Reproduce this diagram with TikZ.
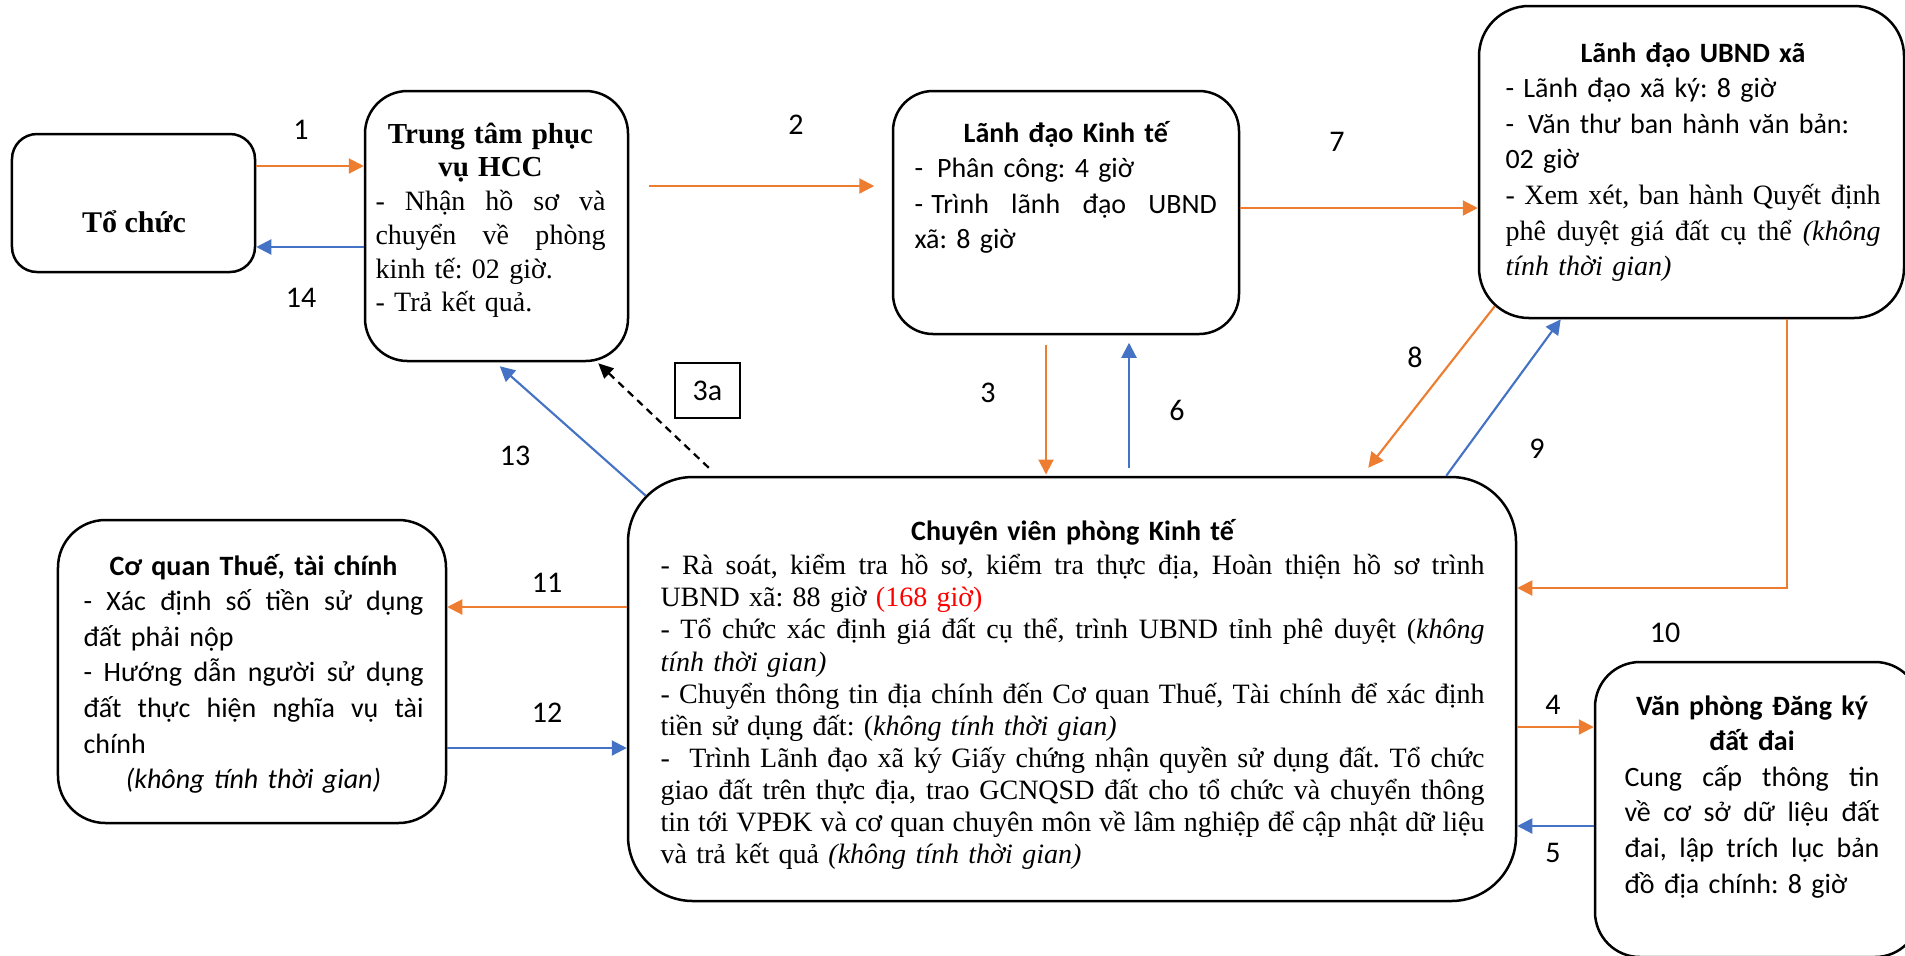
\documentclass[tikz,border=0pt]{standalone}
\usepackage{fontspec}
\setmainfont{Liberation Serif}
\newfontfamily\cali{Carlito}
\usepackage{tikz}
\usetikzlibrary{arrows.meta, positioning, calc}
\definecolor{myOrange}{HTML}{ED7D31}
\definecolor{myBlue}{HTML}{4472C4}
\frenchspacing
% justified line of a box text
\newcommand{\jl}[1]{{\spaceskip=0pt \xspaceskip=0pt \makebox[\linewidth][s]{#1}}}
\newcommand{\cl}[1]{\makebox[\linewidth][c]{#1}}

\begin{document}
\begin{tikzpicture}[
x=0.4pt, y=-0.4pt,
box/.style={
draw,
line width=1pt,
inner sep=0pt
},
txt/.style={
inner sep=0pt,
anchor=base west
},
tnr/.style={font=\rmfamily\fontsize{11.2}{13.5}\selectfont},
cal/.style={font=\cali\fontsize{11.2}{14.25}\selectfont},
lbl/.style={font=\cali\fontsize{12}{14}\selectfont, inner sep=0pt},
oarrow/.style={-{Triangle[length=6pt,width=6pt]}, line width=0.85pt, myOrange},
barrow/.style={-{Triangle[length=6pt,width=6pt]}, line width=0.85pt, myBlue},
darrow/.style={-{Triangle[length=6pt,width=5.5pt]}, line width=0.9pt, dash pattern=on 3pt off 2.2pt}
]
\useasboundingbox (0,0) rectangle (1905,955);

% boxes
\node[box, rounded corners=10pt, minimum width=97.2pt, minimum height=55.2pt] (tochuc) at (133.5,203) {};
\node[box, rounded corners=17pt, minimum width=105.2pt, minimum height=108pt] (hcc) at (496.5,226) {};
\node[box, rounded corners=16pt, minimum width=138.4pt, minimum height=97.2pt] (ldkt) at (1066,212.5) {};
\node[box, rounded corners=20pt, minimum width=170pt, minimum height=124.8pt] (ubnd) at (1691.5,162) {};
\node[box, rounded corners=26pt, minimum width=355.2pt, minimum height=169.6pt] (cv) at (1072,689) {};
\node[box, rounded corners=19pt, minimum width=155.2pt, minimum height=121.2pt] (thue) at (252,671.5) {};
\node[box, rounded corners=18pt, minimum width=130pt, minimum height=118pt] (vp) at (1757.5,809.5) {};

% texts
\node[font=\rmfamily\fontsize{12}{14}\selectfont, inner sep=0pt, anchor=base] (tochuc-t) at (134,232) {\bfseries Tổ chức};

\node[txt, tnr, text width=92pt] (hcc-t) at (375,143) {%
\cl{\fontsize{11.6}{13.5}\selectfont\bfseries Trung tâm phục}\\
\cl{\fontsize{11.6}{13.5}\selectfont\bfseries vụ HCC}\\
\jl{- Nhận hồ sơ và}\\
\jl{chuyển về phòng}\\
kinh tế: 02 giờ.\\
- Trả kết quả.};

\node[txt, cal, text width=121pt] (ldkt-t) at (914,142) {%
\cl{\bfseries Lãnh đạo Kinh tế}\\
- \,Phân công: 4 giờ\\
\jl{-\hspace{0.3em}Trình lãnh đạo UBND}\\
xã: 8 giờ};

\node[txt, cal, text width=150pt] (ubnd-t) at (1505,62) {%
\cl{\bfseries Lãnh đạo UBND xã}\\
- Lãnh đạo xã ký: 8 giờ\\
- \,Văn thư ban hành văn bản:\\
02 giờ\\
{\rmfamily\jl{- Xem xét, ban hành Quyết định}}\\
{\rmfamily\jl{phê duyệt giá đất cụ thể \textit{(không}}}\\
{\rmfamily\textit{tính thời gian)}}};

\node[txt, font=\rmfamily\fontsize{11.2}{12.85}\selectfont, text width=329.6pt] (cv-t) at (660,540) {%
\cl{\cali\bfseries Chuyên viên phòng Kinh tế}\\[1pt]
\jl{- Rà soát, kiểm tra hồ sơ, kiểm tra thực địa, Hoàn thiện hồ sơ trình}\\
UBND xã: 88 giờ \textcolor{red}{(168 giờ)}\\
\jl{- Tổ chức xác định giá đất cụ thể, trình UBND tỉnh phê duyệt (\textit{không}}\\
\textit{tính thời gian)}\\
\jl{- Chuyển thông tin địa chính đến Cơ quan Thuế, Tài chính để xác định}\\
tiền sử dụng đất: (\textit{không tính thời gian)}\\
\jl{-\ \ Trình Lãnh đạo xã ký Giấy chứng nhận quyền sử dụng đất. Tổ chức}\\
\jl{giao đất trên thực địa, trao GCNQSD đất cho tổ chức và chuyển thông}\\
\jl{tin tới VPĐK và cơ quan chuyên môn về lâm nghiệp để cập nhật dữ liệu}\\
và trả kết quả \textit{(không tính thời gian)}};

\node[txt, cal, text width=136pt] (thue-t) at (83,575) {%
\cl{\bfseries Cơ quan Thuế, tài chính}\\
\jl{- Xác định số tiền sử dụng}\\
đất phải nộp\\
\jl{- Hướng dẫn người sử dụng}\\
\jl{đất thực hiện nghĩa vụ tài}\\
chính\\
\cl{\itshape (không tính thời gian)}};

\node[txt, cal, text width=102pt] (vp-t) at (1624,715) {%
\cl{\bfseries Văn phòng Đăng ký}\\
\cl{\bfseries đất đai}\\
\jl{Cung cấp thông tin}\\
\jl{về cơ sở dữ liệu đất}\\
\jl{đai, lập trích lục bản}\\
đồ địa chính: 8 giờ};

% connectors
\draw[oarrow] (tochuc.east |- 0,166) -- (hcc.west |- 0,166);
\draw[barrow] (hcc.west |- 0,247) -- (tochuc.east |- 0,247);
\draw[oarrow, shorten <=8pt, shorten >=7pt] (hcc.east |- 0,186) -- (ldkt.west |- 0,186);
\draw[oarrow] (ldkt.east |- 0,208) -- (ubnd.west |- 0,208);
\draw[oarrow, shorten <=4pt, shorten >=0.5pt] (ldkt.south -| 1046,0) -- (cv.north -| 1046,0);
\draw[barrow, shorten <=3pt, shorten >=3pt] (cv.north -| 1129,0) -- (ldkt.south -| 1129,0);
\draw[oarrow] ($(ubnd.south west)+(17,-13)$) -- ($(cv.north east)+(-149,-8)$);
\draw[barrow] ($(cv.north east)+(-71,0)$) -- ($(ubnd.south west)+(83,0)$);
\draw[oarrow] (ubnd.south -| 1787,0) |- (cv.east |- 0,588);
\draw[oarrow] (cv.east |- 0,727) -- (vp.west |- 0,727);
\draw[barrow] (vp.west |- 0,826) -- (cv.east |- 0,826);
\draw[oarrow] (cv.west |- 0,607) -- (thue.east |- 0,607);
\draw[barrow] (thue.east |- 0,748) -- (cv.west |- 0,748);
\draw[barrow] ($(cv.north west)+(19,20)$) -- ($(hcc.south west)+(136,4)$);
\draw[darrow] ($(cv.north west)+(82,-8)$) -- ($(hcc.south east)+(-31,1)$);

% step numbers
\node[lbl] (n1) at (301,130) {1};
\node[lbl] (n14) at (301,298) {14};
\node[lbl] (n2) at (796,125) {2};
\node[lbl] (n7) at (1337,142) {7};
\node[lbl] (n3) at (988,393) {3};
\node[lbl] (n6) at (1177,410) {6};
\node[lbl] (n8) at (1415,357) {8};
\node[lbl] (n9) at (1537,449) {9};
\node[lbl] (n10) at (1665,633) {10};
\node[lbl] (n4) at (1553,705) {4};
\node[lbl] (n5) at (1553,853) {5};
\node[lbl] (n11) at (547,583) {11};
\node[lbl] (n12) at (547,713) {12};
\node[lbl] (n13) at (515,456) {13};
\node[lbl, draw, line width=0.7pt, minimum width=26pt, minimum height=22pt] (n3a) at (707.5,390.5) {3a};

\end{tikzpicture}
\end{document}
